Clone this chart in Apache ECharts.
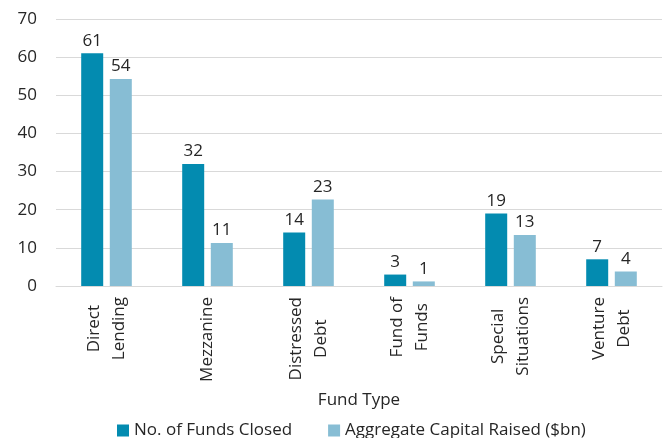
<!DOCTYPE html>
<html>
<head>
<meta charset="utf-8">
<script src="https://cdn.jsdelivr.net/npm/echarts@6/dist/echarts.min.js"></script>
<style>
    html, body { margin: 0; padding: 0; background: #fff; }
    #chart { width: 669px; height: 438px; }
</style>
</head>
<body>
<div id="chart"></div>
<script>
const fundTypes = ['Direct\nLending', 'Mezzanine', 'Distressed\nDebt', 'Fund of\nFunds', 'Special\nSituations', 'Venture\nDebt'];
const fundsClosed = [61, 32, 14, 3, 19, 7];
const capitalRaised = [54.3, 11.3, 22.7, 1.2, 13.4, 3.8];
const seriesNames = ['No. of Funds Closed', 'Aggregate Capital Raised ($bn)'];

const text = '#262626';
const font = 'Open Sans';
const size = 17;
const dark = '#038bb0';
const light = '#87bdd4';

const chart = echarts.init(document.getElementById('chart'), null, { renderer: 'canvas' });

const barLabel = {
    show: true,
    position: 'top',
    distance: 4,
    color: text,
    fontFamily: font,
    fontSize: size,
    formatter: (p) => String(Math.round(p.value)),
};

chart.setOption({
    animation: false,
    backgroundColor: '#fff',
    textStyle: { fontFamily: font, color: text },
    grid: { left: 56, right: 7, top: 19, bottom: 152, containLabel: false },
    legend: {
        left: 112,
        top: 417,
        itemWidth: 12,
        itemHeight: 12,
        itemGap: 36,
        icon: 'rect',
        textStyle: { color: text, fontFamily: font, fontSize: size },
        data: seriesNames,
    },
    xAxis: {
        type: 'category',
        data: fundTypes,
        name: 'Fund Type',
        nameLocation: 'middle',
        nameGap: 106,
        nameTextStyle: { color: text, fontFamily: font, fontSize: size },
        axisLine: { lineStyle: { color: '#d9d9d9', width: 1 } },
        axisTick: { show: false },
        axisLabel: {
            rotate: 90,
            margin: 11,
            interval: 0,
            formatter: (v) => v.split('\n').map((s) => '{c|' + s + '}').join('\n'),
            rich: {
                c: { align: 'center', color: text, fontFamily: font, fontSize: size, lineHeight: 25 },
            },
        },
    },
    yAxis: {
        type: 'value',
        min: 0,
        max: 70,
        interval: 10,
        axisLine: { show: false },
        axisTick: { show: false },
        axisLabel: { color: text, fontFamily: font, fontSize: size, margin: 19 },
        splitLine: { lineStyle: { color: '#d9d9d9', width: 1 } },
    },
    series: [
        {
            name: seriesNames[0],
            type: 'bar',
            data: fundsClosed,
            barWidth: 22,
            barGap: '30%',
            itemStyle: { color: dark },
            label: barLabel,
        },
        {
            name: seriesNames[1],
            type: 'bar',
            data: capitalRaised,
            barWidth: 22,
            itemStyle: { color: light },
            label: barLabel,
        },
    ],
});
</script>
</body>
</html>
